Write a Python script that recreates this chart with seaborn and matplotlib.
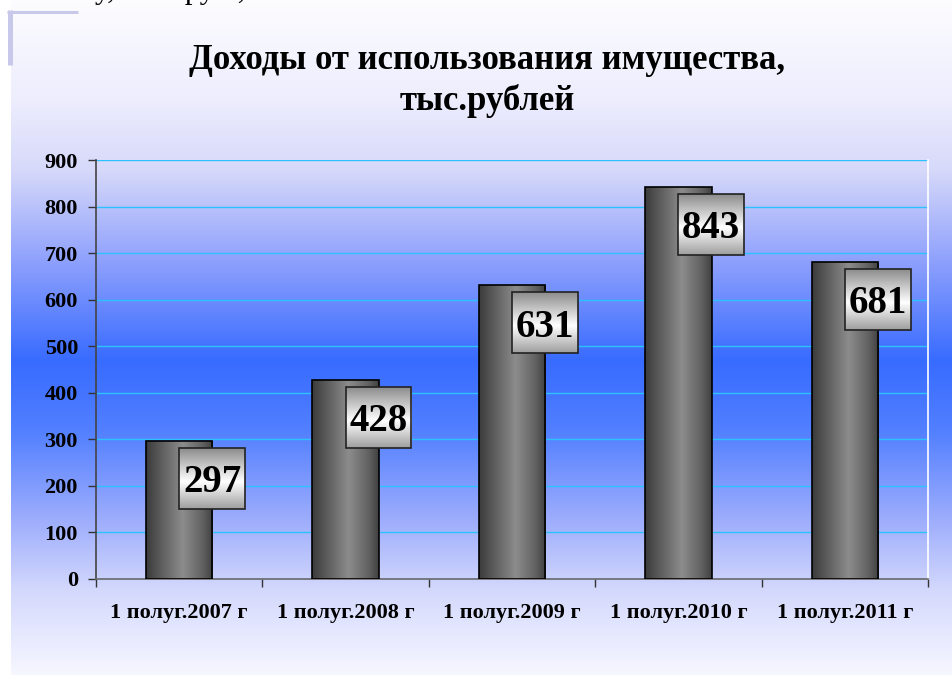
import numpy as np
import matplotlib
matplotlib.use("Agg")
import matplotlib.pyplot as plt
import seaborn as sns
import pandas as pd
from matplotlib.patches import Rectangle
from matplotlib.lines import Line2D

categories = ["1 полуг.2007 г", "1 полуг.2008 г", "1 полуг.2009 г",
              "1 полуг.2010 г", "1 полуг.2011 г"]
values = [297, 428, 631, 843, 681]
yticks = [0, 100, 200, 300, 400, 500, 600, 700, 800, 900]
title_line1 = "Доходы от использования имущества,"
title_line2 = "тыс.рублей"
header_fragment = "у, тыс. руб.,"

sns.set_theme(style="white")
plt.rcParams['font.family'] = ['Liberation Serif', 'DejaVu Serif']
plt.rcParams['text.color'] = 'black'

W, H = 952, 675
fig = plt.figure(figsize=(W / 100, H / 100), dpi=100)
fig.patch.set_facecolor('white')

# background panel with vertical gradient
bg = fig.add_axes([11 / W, 0, 1 - 11 / W, 1], zorder=0)
stops_y = [0, 100, 170, 260, 360, 430, 520, 590, 675]
stops_c = [(0.99, 0.99, 1.0), (0.93, 0.93, 0.995), (0.84, 0.85, 0.98),
           (0.56, 0.63, 0.99), (0.22, 0.42, 1.0), (0.32, 0.50, 1.0),
           (0.62, 0.68, 0.99), (0.83, 0.85, 0.99), (0.97, 0.97, 1.0)]
ys = np.arange(H)
grad = np.zeros((H, 1, 3))
for k in range(3):
    grad[:, 0, k] = np.interp(ys, stops_y, [c[k] for c in stops_c])
bg.imshow(grad, aspect='auto', extent=[0, 1, 1, 0], interpolation='bilinear')
bg.set_xlim(0, 1)
bg.set_ylim(1, 0)
bg.axis('off')

# decorative bracket top-left
fig.add_artist(Line2D([9.5 / W, 9.5 / W], [1 - 10 / H, 1 - 65 / H],
                      color='#c8c8ea', lw=3.6, solid_capstyle='butt'))
fig.add_artist(Line2D([7 / W, 78 / W], [1 - 11.5 / H, 1 - 11.5 / H],
                      color='#c8c8ea', lw=2.2, solid_capstyle='butt'))
# partially visible line of slide text at the very top (cut off as in the slide)
fig.text(95 / W, 1 + 2 / H, header_fragment, fontsize=22, color='black',
         ha='left', va='baseline')

ax = fig.add_axes([96 / W, 1 - 579 / H, (928 - 96) / W, (579 - 160) / H], zorder=2)
ax.patch.set_alpha(0)

df = pd.DataFrame({'cat': categories, 'val': values})
sns.barplot(data=df, x='cat', y='val', ax=ax, width=0.4, color='#666666',
            edgecolor='black', linewidth=1.2, zorder=4)

# cylinder-like horizontal gradient on bars
xs = np.linspace(0, 1, 200)
bar_g = np.interp(xs, [0, 0.15, 0.55, 0.85, 1.0], [0.23, 0.32, 0.55, 0.38, 0.25])
bar_img = np.stack([bar_g, bar_g, bar_g], axis=-1)[None, :, :].repeat(2, axis=0)
for p in list(ax.patches):
    x0, y0 = p.get_x(), p.get_y()
    w, h = p.get_width(), p.get_height()
    im = ax.imshow(bar_img, aspect='auto', extent=[x0, x0 + w, y0, y0 + h],
                   interpolation='bilinear', zorder=3)
    im.set_clip_path(p)
    p.set_facecolor('none')

# label boxes
yy = np.linspace(0, 1, 100)
box_g = np.interp(yy, [0, 0.55, 1.0], [0.55, 1.0, 0.62])
box_img = np.stack([box_g, box_g, box_g], axis=-1)[:, None, :].repeat(2, axis=1)
box_w, box_h, box_off = 0.395, 131, 15
for i, v in enumerate(values):
    top = v - box_off
    bottom = top - box_h
    ax.imshow(box_img, aspect='auto', extent=[i, i + box_w, bottom, top],
              interpolation='bilinear', zorder=5)
    ax.add_patch(Rectangle((i, bottom), box_w, box_h, facecolor='none',
                           edgecolor='#222222', lw=1.2, zorder=6))
    ax.text(i + box_w / 2, (top + bottom) / 2, str(v), fontsize=28,
            fontweight='bold', ha='center', va='center_baseline', zorder=7,
            color='black')

ax.set_xlim(-0.5, len(categories) - 0.5)
ax.set_ylim(0, 900)
ax.set_yticks(yticks)
ax.set_yticklabels([str(t) for t in yticks], fontsize=16, fontweight='bold')
ax.set_xticks(range(len(categories)))
ax.set_xticklabels(categories, fontsize=16, fontweight='bold')
ax.set_xticks(np.arange(-0.5, len(categories)), minor=True)
ax.set_xlabel('')
ax.set_ylabel('')

ax.yaxis.grid(True, color='#2cc2ff', lw=1.0)
ax.xaxis.grid(False)
ax.set_axisbelow(True)

ax.tick_params(axis='y', which='major', direction='out', length=6, width=1,
               color='#333333', pad=7, left=True, labelcolor='black')
ax.tick_params(axis='x', which='major', length=0, pad=17, labelcolor='black')
ax.tick_params(axis='x', which='minor', direction='out', length=6, width=1,
               color='#333333', bottom=True)

ax.spines['left'].set_color('#444444')
ax.spines['left'].set_linewidth(1.2)
ax.spines['bottom'].set_color('#6a6a6a')
ax.spines['bottom'].set_linewidth(1.2)
ax.spines['right'].set_color('white')
ax.spines['right'].set_linewidth(1.2)
ax.spines['top'].set_visible(False)

fig.text(487 / W, 1 - 69 / H, title_line1, fontsize=25, fontweight='bold',
         ha='center', va='baseline', color='black')
fig.text(487 / W, 1 - 110 / H, title_line2, fontsize=25, fontweight='bold',
         ha='center', va='baseline', color='black')

fig.savefig('out.png', dpi=100)
